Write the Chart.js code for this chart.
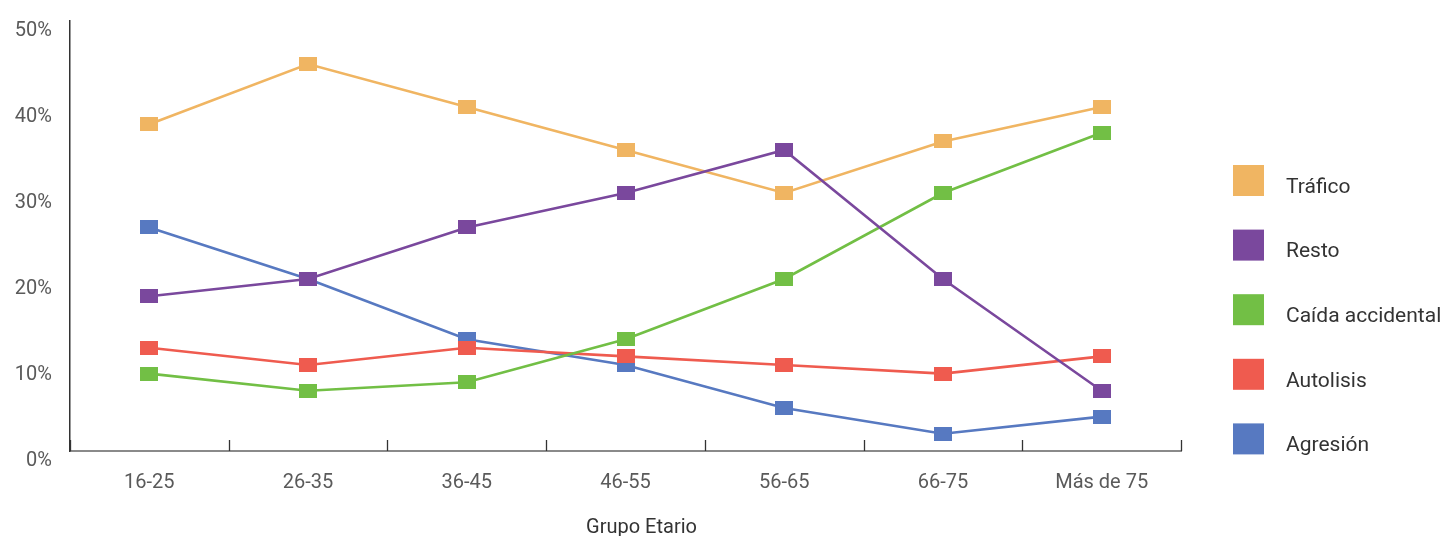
<!DOCTYPE html>
<html lang="es">
<head>
<meta charset="utf-8">
<title>Grupo Etario</title>
<script src="https://cdn.jsdelivr.net/npm/chart.js@4/dist/chart.umd.min.js"></script>
<style>
  html, body { margin: 0; padding: 0; background: #fff; }
  #wrap { width: 1446px; height: 536px; position: relative; }
</style>
</head>
<body>
<div id="wrap"><canvas id="chart" width="1446" height="536"></canvas></div>
<script>
// Age groups on the x axis
const categories = ['16-25', '26-35', '36-45', '46-55', '56-65', '66-75', 'Más de 75'];

// Share of cases (%) per cause and age group
const trafico    = [38, 45, 40, 35, 30, 36, 40];
const resto      = [18, 20, 26, 30, 35, 20, 7];
const caida      = [9, 7, 8, 13, 20, 30, 37];
const autolisis  = [12, 10, 12, 11, 10, 9, 11];
const agresion   = [26, 20, 13, 10, 5, 2, 4];

const seriesNames = ['Tráfico', 'Resto', 'Caída accidental', 'Autolisis', 'Agresión'];
const seriesColors = ['#F0B562', '#7A489D', '#72BF45', '#EF5B4F', '#5779C1'];

const yTickValues = [0, 10, 20, 30, 40, 50];

const FONT = 'Roboto, "DejaVu Sans", sans-serif';
const TEXT = '#5a5a5a';

// Rectangular marker used for every point
function marker(color) {
  const c = document.createElement('canvas');
  c.width = 18; c.height = 14;
  const g = c.getContext('2d');
  g.fillStyle = color;
  g.fillRect(0, 0, 18, 14);
  return c;
}

const seriesData = [trafico, resto, caida, autolisis, agresion];
const datasets = seriesData.map((d, i) => ({
  label: seriesNames[i],
  data: d,
  borderColor: seriesColors[i],
  backgroundColor: seriesColors[i],
  borderWidth: 2.6,
  pointStyle: marker(seriesColors[i]),
  pointRadius: 9,
  pointHoverRadius: 9,
  tension: 0,
  fill: false,
  order: i === 1 ? 0 : 1
}));

// Short tick marks between categories, rising from the x axis
const betweenTicks = {
  id: 'betweenTicks',
  afterDraw(chart) {
    const xs = chart.scales.x;
    const yb = chart.chartArea.bottom;
    const ctx = chart.ctx;
    ctx.save();
    ctx.strokeStyle = '#333';
    ctx.lineWidth = 1.3;
    for (let i = 0; i <= categories.length; i++) {
      const x = Math.round(xs.getPixelForValue(i - 0.5)) + 0.5;
      ctx.beginPath();
      ctx.moveTo(x, yb - 11);
      ctx.lineTo(x, yb);
      ctx.stroke();
    }
    ctx.restore();
  }
};

// Legend on the right: coloured squares with labels
const sideLegend = {
  id: 'sideLegend',
  afterDraw(chart) {
    const ctx = chart.ctx;
    const boxX = 1233, boxY = 165, box = 31, step = 64.6, textX = 1286;
    ctx.save();
    ctx.font = '400 21px ' + FONT;
    ctx.textBaseline = 'middle';
    ctx.textAlign = 'left';
    chart.data.datasets.forEach((ds, i) => {
      const y = boxY + i * step;
      ctx.fillStyle = ds.borderColor;
      ctx.fillRect(boxX, y, box, box);
      ctx.fillStyle = '#333';
      ctx.fillText(ds.label, textX, y + box / 2 + 7);
    });
    ctx.restore();
  }
};

// Axis title, centred a little right of the plot centre
const axisTitle = {
  id: 'axisTitle',
  afterDraw(chart) {
    const ctx = chart.ctx;
    const xs = chart.scales.x;
    ctx.save();
    ctx.font = '400 20px ' + FONT;
    ctx.fillStyle = '#333';
    ctx.textAlign = 'center';
    ctx.textBaseline = 'middle';
    ctx.fillText('Grupo Etario', (xs.left + xs.right) / 2 + 16, 528);
    ctx.restore();
  }
};

new Chart(document.getElementById('chart'), {
  type: 'line',
  data: { labels: categories, datasets },
  options: {
    responsive: false,
    animation: false,
    layout: { padding: { top: 21, right: 265, bottom: 0, left: 0 } },
    plugins: {
      legend: { display: false },
      tooltip: { enabled: false }
    },
    scales: {
      x: {
        offset: true,
        grid: { display: false, drawTicks: false },
        border: { display: true, color: '#8a8a8a', width: 2 },
        ticks: {
          color: TEXT,
          padding: 20,
          font: { family: FONT, size: 20, weight: 400 }
        },
        afterFit(scale) {
          scale.height = 85;
          scale.paddingLeft = 0;
          scale.paddingRight = 0;
        }
      },
      y: {
        min: 0,
        max: 50,
        afterBuildTicks(scale) {
          scale.ticks = yTickValues.map(v => ({ value: v }));
        },
        grid: { display: false, drawTicks: false },
        border: { display: true, color: '#333', width: 1.5 },
        ticks: {
          color: TEXT,
          padding: 18,
          labelOffset: 10,
          font: { family: FONT, size: 20, weight: 400 },
          callback: v => v + '%'
        },
        afterFit(scale) {
          scale.width = 70;
          scale.paddingTop = 0;
          scale.paddingBottom = 0;
        }
      }
    }
  },
  plugins: [betweenTicks, sideLegend, axisTitle]
});
</script>
</body>
</html>
